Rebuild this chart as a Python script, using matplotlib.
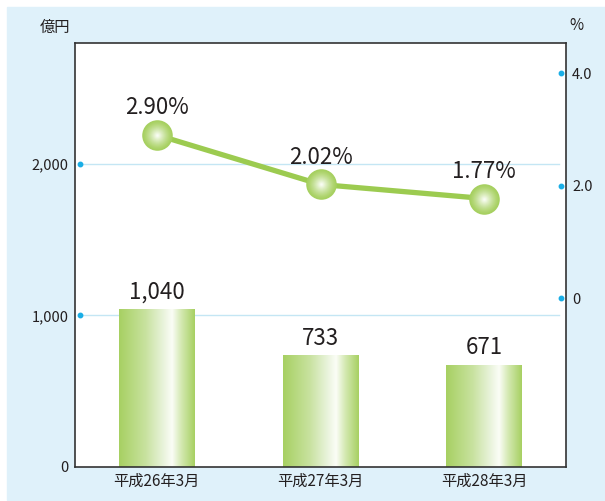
import numpy as np
import matplotlib
matplotlib.use("Agg")
import matplotlib.pyplot as plt
from matplotlib.patches import Rectangle
from matplotlib.colors import LinearSegmentedColormap, to_rgb

plt.rcParams['font.family'] = ['Noto Sans CJK JP', 'DejaVu Sans']

categories = ['平成26年3月', '平成27年3月', '平成28年3月']
amounts = [1040, 733, 671]          # 億円
amount_labels = ['1,040', '733', '671']
ratios = [2.90, 2.02, 1.77]         # %
ratio_labels = ['2.90%', '2.02%', '1.77%']
left_ticks = [0, 1000, 2000]
left_tick_labels = ['0', '1,000', '2,000']
right_ticks = [0, 2, 4]
right_tick_labels = ['0', '2.0', '4.0']

W, H = 605, 501
fig = plt.figure(figsize=(W / 100, H / 100), dpi=100)
fig.patch.set_facecolor('white')
bg = '#dff1fa'
fig.patches.append(Rectangle((7 / W, 1 - 500 / H), 598 / W, 493 / H,
                             transform=fig.transFigure, color=bg, zorder=-10))

ax = fig.add_axes([75 / W, 34 / H, 491 / W, 424 / H])
ax.set_zorder(1)
ax.set_facecolor('white')
ax.set_xlim(-0.5, 2.5)
ax.set_ylim(0, 2795)
for s in ax.spines.values():
    s.set_color('#333333')
    s.set_linewidth(1.2)

txt = '#231f20'
grid_c = '#c4e6f4'
dot_c = '#1aaee6'

# gridlines
for y in [1000, 2000]:
    ax.axhline(y, xmin=5 / 491, xmax=484 / 491, color=grid_c, lw=1, zorder=1)
ax.plot([5 / 491] * 2, [1000, 2000], 'o', color=dot_c, ms=3.2,
        transform=ax.get_yaxis_transform(), zorder=3, clip_on=False)

# bars with horizontal gradient
grad_cmap = LinearSegmentedColormap.from_list('g', [
    (0.0, '#a7d062'), (0.35, '#c8e29f'), (0.58, '#e8f3da'),
    (0.70, '#fbfdf7'), (0.82, '#d4e9b2'), (1.0, '#a7d062')])
grad = np.linspace(0, 1, 256).reshape(1, -1)
bw = 0.463
for i, v in enumerate(amounts):
    ax.imshow(grad, cmap=grad_cmap, aspect='auto',
              extent=[i - bw / 2, i + bw / 2, 0, v], zorder=2,
              interpolation='bilinear')
    ax.text(i, v + 11 * 2795 / 424, amount_labels[i], ha='center',
            va='baseline', fontsize=16, color=txt, zorder=5)
ax.set_xlim(-0.5, 2.5)
ax.set_ylim(0, 2795)

ax.set_yticks(left_ticks)
ax.set_yticklabels(left_tick_labels)
ax.set_xticks(range(len(categories)))
ax.set_xticklabels(categories)
ax.tick_params(axis='y', length=0, pad=4.5, labelsize=10.5, labelcolor=txt)
ax.tick_params(axis='x', length=0, pad=4, labelsize=11, labelcolor=txt)

# right axis
ax2 = ax.twinx()
ax2.set_zorder(2)
ax2.patch.set_visible(False)
ax2.set_ylim(-3.0, 4.533)
ax2.set_yticks(right_ticks)
ax2.set_yticklabels(right_tick_labels)
ax2.tick_params(axis='y', length=0, pad=4.5, labelsize=10.5, labelcolor=txt)
for s in ax2.spines.values():
    s.set_visible(False)
ax2.plot([486 / 491] * 3, right_ticks, 'o', color=dot_c, ms=3.2,
         transform=ax2.get_yaxis_transform(), zorder=3, clip_on=False)

line_c = '#9ccb50'
xs = np.arange(len(ratios))
ax2.plot(xs, ratios, color=line_c, lw=3.8, zorder=3, solid_capstyle='round')

# gradient markers: concentric circles
outer = np.array(to_rgb('#a6d05f'))
inner = np.array(to_rgb('#f8fcf2'))
n = 16
for k in range(n):
    t = k / (n - 1)
    size = (22.0 * (1 - 0.92 * t)) ** 2
    col = outer + (inner - outer) * (t ** 1.3)
    ax2.scatter(xs, ratios, s=size, color=col, zorder=4 + k * 0.01,
                linewidths=0)

for i, r in enumerate(ratios):
    ax2.annotate(ratio_labels[i], (i, r), xytext=(0, 15), textcoords='offset points',
                 ha='center', va='baseline', fontsize=16, color=txt, zorder=6)

fig.text(55 / W, 1 - 27 / H, '億円', ha='center', va='center', fontsize=11, color=txt)
fig.text(576 / W, 1 - 26 / H, '%', ha='center', va='center', fontsize=11, color=txt)

fig.savefig('out.png', dpi=100)
